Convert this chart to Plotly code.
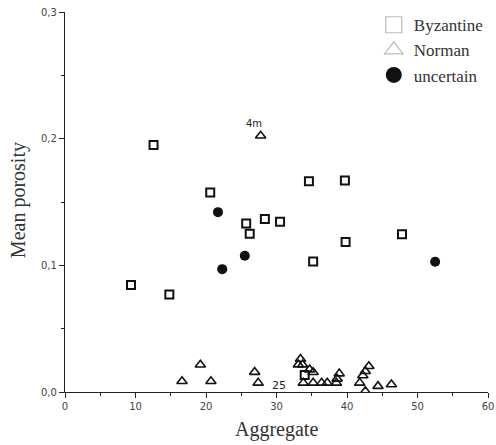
import plotly.graph_objects as go

byz_x = [12.56, 20.6, 9.36, 14.8, 34.6, 39.7, 25.7, 28.35, 30.5, 26.2, 39.8, 47.8, 35.2, 34.0]
byz_y = [0.195, 0.1575, 0.0845, 0.077, 0.1664, 0.167, 0.133, 0.1365, 0.1345, 0.125, 0.1185, 0.1245, 0.103, 0.0135]

nor_x = [27.75, 19.2, 16.6, 20.7, 26.9, 27.4, 33.4, 33.1, 33.7, 34.7, 35.2, 33.8, 35.2, 36.4,
         37.2, 38.9, 38.6, 38.5, 43.1, 42.6, 42.25, 41.8, 42.6, 44.4, 46.3]
nor_y = [0.2023, 0.0215, 0.0085, 0.0085, 0.0157, 0.0072, 0.026, 0.0216, 0.0216, 0.0177, 0.0156,
         0.0072, 0.0072, 0.0072, 0.0072, 0.0145, 0.0104, 0.0072, 0.0203, 0.0164, 0.013, 0.0072,
         0.0006, 0.0046, 0.0059]

unc_x = [21.7, 22.3, 25.5, 52.5]
unc_y = [0.142, 0.097, 0.1075, 0.1028]

x_ticks = [0, 10, 20, 30, 40, 50, 60]
y_ticks = [0.0, 0.1, 0.2, 0.3]
y_tick_text = ["0,0", "0,1", "0,2", "0,3"]

labels = [("4m", 26.85, 0.212, 10), ("25", 30.3, 0.005, 11)]

serif = "Liberation Serif, Times New Roman, serif"
sans = "DejaVu Sans, sans-serif"

fig = go.Figure()
# plotted points
fig.add_trace(go.Scatter(x=byz_x, y=byz_y, mode="markers", showlegend=False,
                         marker=dict(symbol="square-open", size=8, color="#111",
                                     line=dict(width=2, color="#111"))))
fig.add_trace(go.Scatter(x=nor_x, y=nor_y, mode="markers", showlegend=False,
                         marker=dict(symbol="triangle-up-open", size=9, color="#111",
                                     line=dict(width=1.6, color="#111"))))
fig.add_trace(go.Scatter(x=unc_x, y=unc_y, mode="markers", showlegend=False,
                         marker=dict(symbol="circle", size=10, color="#111")))
# legend entries
fig.add_trace(go.Scatter(x=[None], y=[None], mode="markers", name="Byzantine",
                         marker=dict(symbol="square-open", size=16, color="#bbb",
                                     line=dict(width=1.2, color="#bbb"))))
fig.add_trace(go.Scatter(x=[None], y=[None], mode="markers", name="Norman",
                         marker=dict(symbol="triangle-up-open", size=17, color="#bbb",
                                     line=dict(width=1.2, color="#bbb"))))
fig.add_trace(go.Scatter(x=[None], y=[None], mode="markers", name="uncertain",
                         marker=dict(symbol="circle", size=16, color="#111")))

for txt, lx, ly, fs in labels:
    fig.add_annotation(x=lx, y=ly, text=txt, showarrow=False,
                       font=dict(family=sans, size=fs, color="#222"))

fig.add_annotation(xref="paper", yref="paper", x=0.5, y=-0.098, text="Aggregate",
                   showarrow=False, xanchor="center", yanchor="middle",
                   font=dict(family=serif, size=20, color="#333"))
fig.add_annotation(xref="paper", yref="paper", x=-0.111, y=0.505, text="Mean porosity",
                   showarrow=False, xanchor="center", yanchor="middle", textangle=-90,
                   font=dict(family=serif, size=20, color="#333"))

fig.update_layout(
    width=496, height=445,
    margin=dict(l=65, r=8, t=11, b=53),
    plot_bgcolor="white", paper_bgcolor="white",
    legend=dict(x=0.73, y=1.01, xanchor="left", yanchor="top",
                font=dict(family=serif, size=17, color="#333"),
                itemsizing="trace", tracegroupgap=0, bgcolor="rgba(0,0,0,0)"),
)
fig.update_xaxes(range=[0, 60], tickvals=x_ticks, showgrid=False, zeroline=False,
                 showline=True, linecolor="#222", linewidth=1.3, automargin=False,
                 ticks="outside", ticklen=5, tickcolor="#222",
                 minor=dict(dtick=5, ticks="outside", ticklen=3, tickcolor="#222"),
                 tickfont=dict(family=sans, size=10, color="#444"))
fig.update_yaxes(range=[0, 0.3], tickvals=y_ticks, ticktext=y_tick_text, showgrid=False,
                 zeroline=False, showline=True, linecolor="#222", linewidth=1.3, automargin=False,
                 ticks="outside", ticklen=5, tickcolor="#222",
                 minor=dict(dtick=0.05, ticks="outside", ticklen=3, tickcolor="#222"),
                 tickfont=dict(family=sans, size=10, color="#444"))

fig.write_html("out.html", config={"displayModeBar": False},
               post_script="document.body.style.margin='0';document.body.style.overflow='hidden';")
